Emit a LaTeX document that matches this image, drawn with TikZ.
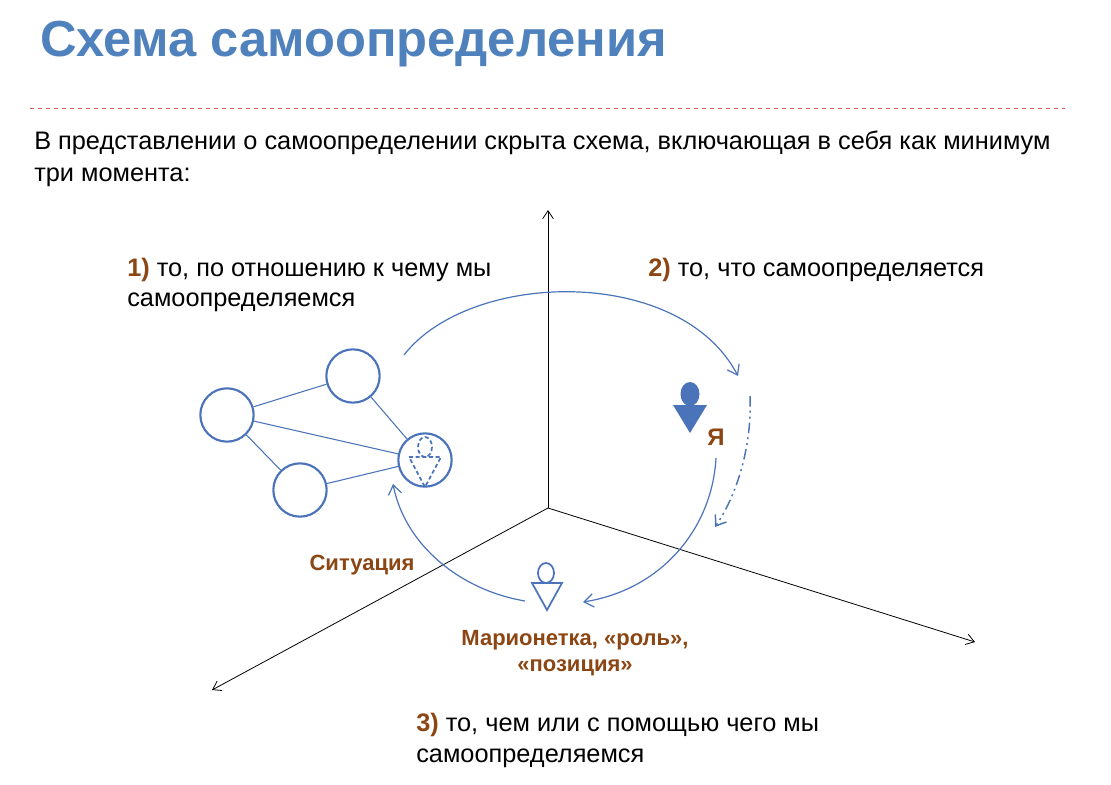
\documentclass[tikz,border=0pt]{standalone}
\usepackage{fontspec}
\setmainfont{Liberation Sans}
\usetikzlibrary{arrows.meta}
\definecolor{tblue}{RGB}{79,129,189}
\definecolor{lblue}{RGB}{75,115,185}
\definecolor{brn}{RGB}{140,70,20}
\definecolor{dred}{RGB}{200,90,80}
\begin{document}
\begin{tikzpicture}[x=0.75pt,y=-0.75pt,
  txt/.style={anchor=base west,inner sep=0,font=\fontsize{19}{22}\selectfont},
  lab/.style={inner sep=0,font=\fontsize{16.5}{19}\selectfont\bfseries,text=brn},
  circ/.style={circle,draw=lblue,line width=1.6pt,minimum size=40pt,inner sep=0},
  link/.style={draw=lblue,line width=0.8pt},
  arc/.style={draw=lblue,line width=0.9pt,-{Straight Barb[length=7pt,width=10pt]}},
  ax/.style={draw=black,line width=0.6pt,-{Straight Barb[length=6pt,width=8pt]}}]
\useasboundingbox (0,0) rectangle (1111,785);
\node[anchor=base west,inner sep=0,font=\fontsize{38}{42}\selectfont\bfseries,text=tblue] (title) at (40,56) {Схема самоопределения};
\draw[dred,dashed,line width=0.6pt] (30,108) coordinate (l1) -- (1065,108) coordinate (l2);
\node[txt] (p1) at (34,149) {В представлении о самоопределении скрыта схема, включающая в себя как минимум};
\node[txt] (p2) at (34,181) {три момента:};
% axes
\coordinate (o) at (548,508);
\coordinate (ay) at (548,210);
\coordinate (ax) at (975,642);
\coordinate (az) at (212,690);
\draw[ax] (o) -- (ay);
\draw[ax] (o) -- (ax);
\draw[ax] (o) -- (az);
% labels
\node[txt] (t1) at (127,276) {\textbf{\textcolor{brn}{1)}} то, по отношению к чему мы};
\node[txt] (t1b) at (127,306) {самоопределяемся};
\node[txt] (t2) at (648,276) {\textbf{\textcolor{brn}{2)}} то, что самоопределяется};
\node[txt] (t3) at (416,731) {\textbf{\textcolor{brn}{3)}} то, чем или с помощью чего мы};
\node[txt] (t3b) at (416,762) {самоопределяемся};
\node[lab] (sit) at (362,565) {Ситуация};
\node[lab] (m1) at (575,640) {Марионетка, «роль»,};
\node[lab] (m2) at (575,668) {«позиция»};
\node[lab,font=\fontsize{18}{20}\selectfont\bfseries] (ya) at (716,437) {Я};
% circles
\node[circ] (c1) at (227,415) {};
\node[circ] (c2) at (353,376) {};
\node[circ] (c3) at (300,490) {};
\node[circ] (c4) at (425,460) {};
\draw[link] (c1) -- (c2);
\draw[link] (c1) -- (c4);
\draw[link] (c1) -- (c3);
\draw[link] (c2) -- (c4);
\draw[link] (c3) -- (c4);
% dashed person in c4
\draw[lblue,line width=1.3pt,dash pattern=on 3pt off 2pt] (425,447) ellipse [x radius=7,y radius=10];
\draw[lblue,line width=1.3pt,dash pattern=on 3pt off 2pt] (409,457) -- (441,457) -- (425,487) -- cycle;
% Ya person
\fill[lblue] (690,394) ellipse [x radius=9.5,y radius=12];
\fill[lblue] (673,405) -- (707,405) -- (690,433) -- cycle;
% puppet
\draw[lblue,line width=1.3pt] (546,573) ellipse [x radius=8,y radius=10];
\draw[lblue,line width=1.3pt,fill=white] (532,583) -- (562,583) -- (547,610) -- cycle;
% arcs
\coordinate (a1s) at (404,355); \coordinate (a1e) at (738,376);
\draw[arc] (a1s) .. controls (470,270) and (680,265) .. (a1e);
\coordinate (a2s) at (750,396); \coordinate (a2e) at (715,527);
\draw[arc,line width=1.1pt,dash pattern=on 8pt off 3pt on 1.5pt off 3pt on 1.5pt off 3pt] (a2s) .. controls (752,440) and (740,490) .. (a2e);
\coordinate (a3s) at (716,458); \coordinate (a3e) at (583,602);
\draw[arc] (a3s) .. controls (712,530) and (660,590) .. (a3e);
\coordinate (a4s) at (525,601); \coordinate (a4e) at (393,484);
\draw[arc] (a4s) .. controls (460,590) and (405,545) .. (a4e);
\end{tikzpicture}
\end{document}
